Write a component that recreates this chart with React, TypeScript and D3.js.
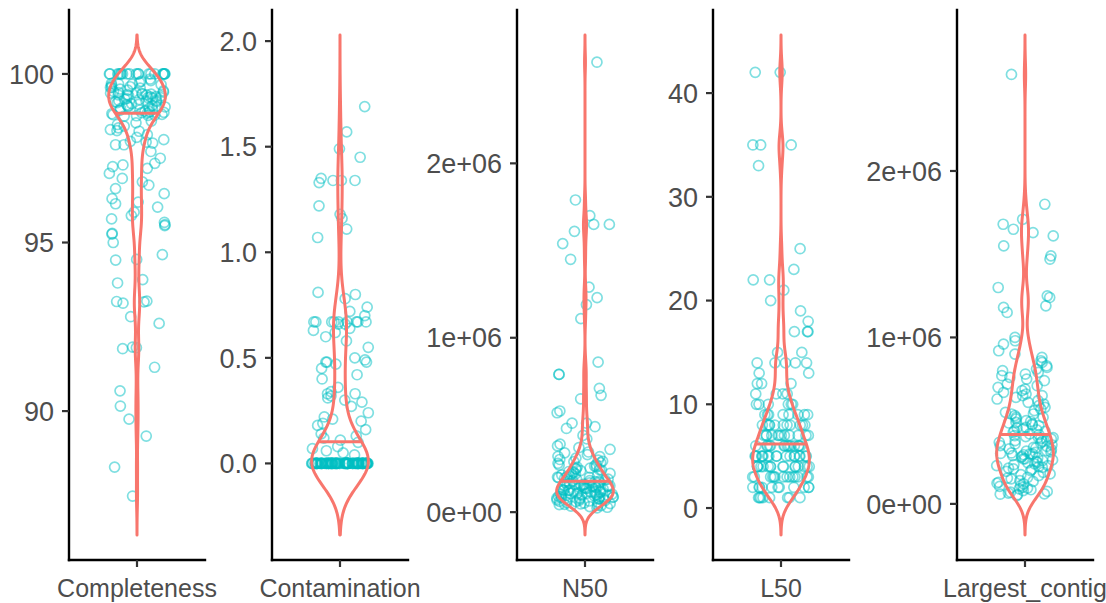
import React from 'react';
import * as d3 from 'd3';

const categories = ['Completeness', 'Contamination', 'N50', 'L50', 'Largest_contig'];

const completeness = [
  100, 100, 100, 100, 100, 100, 100, 100, 100, 100, 100, 100, 100, 100, 100, 100, 100, 100, 100, 100,
  99.85, 99.8, 99.78, 99.75, 99.72, 99.7, 99.7, 99.68, 99.66, 99.62, 99.6, 99.6, 99.58, 99.55, 99.52, 99.5,
  99.48, 99.46, 99.45, 99.44, 99.43, 99.42, 99.4, 99.4, 99.39, 99.38, 99.38, 99.36, 99.35, 99.33, 99.32, 99.3,
  99.3, 99.28, 99.27, 99.25, 99.24, 99.22, 99.2, 99.2, 99.18, 99.17, 99.15, 99.12,
  99.1, 99.08, 99.06, 99.05, 99.03, 99.02, 99.0, 98.98, 98.97, 98.95, 98.93, 98.92, 98.9, 98.88,
  98.86, 98.85, 98.84, 98.82, 98.8, 98.79, 98.78, 98.77, 98.76, 98.75,
  98.6, 98.55, 98.5, 98.45, 98.4, 98.35, 98.32, 98.3,
  98.2, 98.12, 98.05, 98.0, 97.98, 97.95, 97.9, 97.9,
  97.7, 97.5, 97.35, 97.3, 97.25, 97.2, 97.05,
  96.9, 96.8, 96.7, 96.6,
  96.45, 96.3, 96.2, 96.15, 96.05,
  95.9, 95.8, 95.7, 95.6,
  95.53, 95.5, 95.27, 95.25, 95.0, 94.64, 94.5, 94.48, 93.9, 93.8, 93.26, 93.25, 93.24,
  93.2, 92.8, 92.6, 91.9, 91.88, 91.85, 91.3, 90.6, 90.15, 89.76, 89.26, 88.34, 87.48,
];

const contamination = [
  1.69, 1.57, 1.49, 1.45, 1.35, 1.34, 1.34, 1.34, 1.33, 1.22, 1.18, 1.16, 1.11, 1.07,
  0.81, 0.8, 0.78, 0.74, 0.72, 0.7,
  0.67, 0.67, 0.67, 0.67, 0.67, 0.67, 0.67, 0.67, 0.67, 0.66, 0.66,
  0.64, 0.63, 0.62, 0.6, 0.58, 0.55,
  0.5, 0.49, 0.48, 0.48, 0.48, 0.47, 0.45, 0.42, 0.4,
  0.36, 0.34, 0.33, 0.33, 0.32, 0.31, 0.3, 0.29, 0.27,
  0.24, 0.22, 0.21, 0.2, 0.19, 0.18, 0.16, 0.14, 0.13, 0.12, 0.11, 0.1, 0.08, 0.07, 0.06, 0.05, 0.04,
  0, 0, 0, 0, 0, 0, 0, 0, 0, 0,
  0, 0, 0, 0, 0, 0, 0, 0, 0, 0,
  0, 0, 0, 0, 0, 0, 0, 0, 0, 0,
  0, 0, 0, 0, 0, 0, 0, 0, 0, 0,
  0, 0, 0, 0, 0, 0, 0, 0, 0, 0,
  0, 0, 0, 0, 0, 0, 0, 0, 0, 0,
  0, 0, 0, 0, 0, 0, 0, 0, 0, 0,
  0, 0, 0, 0, 0, 0, 0, 0, 0, 0,
  0, 0, 0, 0, 0, 0, 0, 0, 0,
];

const n50 = [
  2.58e6, 1.79e6, 1.7e6, 1.65e6, 1.65e6, 1.61e6, 1.54e6, 1.45e6, 1.29e6, 1.23e6,
  1.19e6, 1.11e6, 0.86e6, 0.79e6, 0.79e6, 0.71e6, 0.67e6, 0.65e6, 0.58e6, 0.57e6,
  0.51e6, 0.51e6, 0.49e6, 0.48e6, 0.44e6, 0.42e6, 0.39e6, 0.38e6, 0.37e6, 0.36e6,
  0.345e6, 0.34e6, 0.33e6, 0.32e6, 0.318e6, 0.31e6, 0.302e6,
  0.298e6, 0.292e6, 0.29e6, 0.284e6, 0.28e6, 0.272e6, 0.27e6, 0.264e6, 0.26e6, 0.258e6, 0.253e6, 0.25e6,
  0.248e6, 0.244e6, 0.241e6, 0.238e6, 0.233e6, 0.23e6, 0.227e6, 0.222e6, 0.22e6, 0.218e6,
  0.213e6, 0.21e6, 0.207e6, 0.203e6, 0.201e6, 0.2e6,
  0.198e6, 0.195e6, 0.19e6, 0.189e6, 0.185e6, 0.181e6, 0.18e6, 0.178e6, 0.175e6, 0.171e6, 0.17e6,
  0.168e6, 0.165e6, 0.161e6, 0.16e6, 0.158e6, 0.155e6, 0.153e6, 0.152e6, 0.151e6, 0.15e6, 0.15e6,
  0.148e6, 0.146e6, 0.145e6, 0.143e6, 0.142e6, 0.14e6, 0.138e6, 0.136e6, 0.135e6, 0.133e6,
  0.13e6, 0.128e6, 0.126e6, 0.125e6, 0.123e6, 0.12e6, 0.118e6, 0.116e6, 0.115e6, 0.113e6,
  0.11e6, 0.108e6, 0.107e6, 0.105e6, 0.104e6, 0.103e6, 0.102e6, 0.1e6,
  0.098e6, 0.096e6, 0.095e6, 0.093e6, 0.092e6, 0.09e6, 0.088e6, 0.087e6, 0.085e6, 0.083e6,
  0.082e6, 0.08e6, 0.078e6, 0.076e6, 0.075e6, 0.073e6, 0.071e6, 0.07e6, 0.068e6, 0.066e6,
  0.064e6, 0.062e6, 0.06e6, 0.057e6, 0.055e6, 0.052e6,
  0.049e6, 0.047e6, 0.045e6, 0.043e6, 0.04e6, 0.038e6, 0.035e6, 0.032e6, 0.028e6, 0.025e6,
];

const l50 = [
  42, 42, 35, 35, 35, 33, 25, 23, 22, 22, 21, 20, 19, 18, 17, 17, 17, 15, 15,
  14, 14, 14, 14, 14, 13, 13, 12, 12, 12, 11, 11, 11, 11,
  10, 10, 10, 10, 10, 10,
  9, 9, 9, 9, 9, 9, 9, 9,
  8, 8, 8, 8, 8, 8, 8, 8, 8, 8, 8,
  7, 7, 7, 7, 7, 7, 7, 7, 7, 7, 7, 7,
  6, 6, 6, 6, 6, 6, 6, 6, 6, 6, 6, 6, 6, 6,
  5, 5, 5, 5, 5, 5, 5, 5, 5, 5, 5, 5, 5, 5, 5, 5, 5, 5,
  4, 4, 4, 4, 4, 4, 4, 4, 4, 4, 4, 4, 4, 4, 4, 4,
  3, 3, 3, 3, 3, 3, 3, 3, 3, 3, 3, 3, 3, 3,
  2, 2, 2, 2, 2, 2, 2, 2, 2, 2, 2,
  1, 1, 1, 1, 1, 1, 1, 1,
];

const largestContig = [
  2.58e6, 1.8e6, 1.71e6, 1.68e6, 1.65e6, 1.63e6, 1.61e6, 1.55e6, 1.49e6, 1.47e6,
  1.3e6, 1.25e6, 1.24e6, 1.19e6, 1.18e6, 1.15e6,
  1.0e6, 0.98e6, 0.96e6, 0.92e6, 0.9e6, 0.88e6, 0.86e6, 0.85e6,
  0.83e6, 0.82e6, 0.81e6, 0.8e6, 0.79e6, 0.78e6, 0.77e6, 0.76e6, 0.75e6, 0.74e6, 0.72e6, 0.71e6,
  0.7e6, 0.69e6, 0.68e6, 0.67e6, 0.66e6, 0.65e6, 0.65e6, 0.64e6, 0.63e6, 0.62e6, 0.61e6, 0.6e6,
  0.59e6, 0.58e6, 0.57e6, 0.56e6, 0.55e6, 0.54e6, 0.54e6, 0.53e6, 0.52e6, 0.52e6, 0.51e6, 0.5e6,
  0.495e6, 0.49e6, 0.486e6, 0.48e6, 0.474e6, 0.47e6, 0.46e6, 0.457e6, 0.45e6, 0.444e6,
  0.44e6, 0.436e6, 0.43e6, 0.42e6, 0.416e6, 0.41e6, 0.404e6, 0.4e6,
  0.398e6, 0.394e6, 0.39e6, 0.386e6, 0.38e6, 0.376e6, 0.37e6, 0.366e6, 0.36e6, 0.355e6,
  0.35e6, 0.346e6, 0.34e6, 0.337e6, 0.33e6, 0.326e6, 0.32e6, 0.317e6, 0.312e6, 0.31e6,
  0.306e6, 0.303e6, 0.3e6, 0.3e6,
  0.295e6, 0.29e6, 0.286e6, 0.28e6, 0.276e6, 0.27e6, 0.264e6, 0.26e6, 0.255e6, 0.25e6,
  0.246e6, 0.24e6, 0.236e6, 0.23e6, 0.224e6, 0.22e6, 0.215e6, 0.21e6, 0.206e6, 0.2e6, 0.27e6, 0.23e6,
  0.195e6, 0.19e6, 0.18e6, 0.176e6, 0.17e6, 0.16e6, 0.155e6, 0.15e6,
  0.14e6, 0.135e6, 0.13e6, 0.124e6, 0.12e6, 0.11e6, 0.105e6, 0.1e6,
  0.095e6, 0.09e6, 0.085e6, 0.08e6, 0.075e6, 0.07e6, 0.065e6, 0.06e6, 0.058e6, 0.055e6, 0.05e6,
];

const tickValues = [
  [90, 95, 100],
  [0, 0.5, 1, 1.5, 2],
  [0, 1e6, 2e6],
  [0, 10, 20, 30, 40],
  [0, 1e6, 2e6],
];
const tickLabels = [
  ['90', '95', '100'],
  ['0.0', '0.5', '1.0', '1.5', '2.0'],
  ['0e+00', '1e+06', '2e+06'],
  ['0', '10', '20', '30', '40'],
  ['0e+00', '1e+06', '2e+06'],
];
const bandwidths = [0.385, 0.113, 0.052e6, 1.2, 0.079e6];

const PANEL_LEFTS = [69, 272, 517, 713, 957];
const PANEL_W = 136;
const TOP = 10;
const BOTTOM = 560;
const FONT = '"Liberation Sans", Arial, Helvetica, sans-serif';
const VIOLIN = '#F8766D';
const POINT = '#00BFC4';

function kde(values: number[], bw: number, grid: number[]) {
  const n = values.length;
  const c = 1 / (n * bw * Math.sqrt(2 * Math.PI));
  return grid.map((g) => {
    let s = 0;
    for (const v of values) {
      const u = (g - v) / bw;
      s += Math.exp(-0.5 * u * u);
    }
    return s * c;
  });
}

function Panel({ idx }: { idx: number }) {
  const data = [completeness, contamination, n50, l50, largestContig][idx];
  const bw = bandwidths[idx];
  const left = PANEL_LEFTS[idx];
  const [mn, mx] = d3.extent(data) as [number, number];
  const lo = mn - 3 * bw;
  const hi = mx + 3 * bw;
  const pad = (hi - lo) * 0.05;
  const y = d3.scaleLinear().domain([lo - pad, hi + pad]).range([BOTTOM, TOP]);
  const x = d3.scaleBand().domain([categories[idx]]).range([left, left + PANEL_W]).paddingOuter(0.1).paddingInner(0);
  const unit = x.bandwidth();
  const cx = (x(categories[idx]) as number) + unit / 2;

  const grid = d3.range(512).map((i) => lo + ((hi - lo) * i) / 511);
  const dens = kde(data, bw, grid);
  const maxD = d3.max(dens) as number;
  const halfW = 0.25 * unit;
  const w = dens.map((d) => (d / maxD) * halfW);

  const pts = grid.map((g, i) => [w[i], g] as [number, number]);
  const right = pts.map(([ww, g]) => [cx + ww, y(g)] as [number, number]);
  const leftSide = pts.slice().reverse().map(([ww, g]) => [cx - ww, y(g)] as [number, number]);
  const path = d3.line()([...right, ...leftSide]) + 'Z';

  // median from the density (as ggplot's draw_quantiles)
  const total = d3.sum(dens);
  let cum = 0;
  let qy = grid[0];
  let qw = w[0];
  for (let i = 0; i < dens.length; i++) {
    const prev = cum;
    cum += dens[i] / total;
    if (cum >= 0.5) {
      const t = i === 0 ? 0 : (0.5 - prev) / (cum - prev);
      const i0 = Math.max(0, i - 1);
      qy = grid[i0] + (grid[i] - grid[i0]) * t;
      qw = w[i0] + (w[i] - w[i0]) * t;
      break;
    }
  }

  const rng = d3.randomLcg(0.137 + idx * 0.211);
  const jit = data.map(() => (rng() * 2 - 1) * 0.25 * unit);

  return (
    <g>
      {data.map((v, i) => (
        <circle key={i} cx={cx + jit[i]} cy={y(v)} r={5} fill="none" stroke={POINT} strokeOpacity={0.5} strokeWidth={1.7} />
      ))}
      <path d={path} fill="none" stroke={VIOLIN} strokeWidth={3} strokeLinejoin="round" />
      <line x1={cx - qw} x2={cx + qw} y1={y(qy)} y2={y(qy)} stroke={VIOLIN} strokeWidth={3} />
      <line x1={left} x2={left} y1={TOP} y2={BOTTOM} stroke="#000" strokeWidth={2.4} strokeLinecap="square" />
      <line x1={left} x2={left + PANEL_W} y1={BOTTOM} y2={BOTTOM} stroke="#000" strokeWidth={2.4} strokeLinecap="square" />
      {tickValues[idx].map((t, i) => (
        <g key={i}>
          <line x1={left - 7} x2={left} y1={y(t)} y2={y(t)} stroke="#333" strokeWidth={2.2} />
          <text x={left - 15} y={y(t)} dy="0.36em" textAnchor="end" fontSize={27} fill="#4D4D4D" fontFamily={FONT}>
            {tickLabels[idx][i]}
          </text>
        </g>
      ))}
      <line x1={cx} x2={cx} y1={BOTTOM} y2={BOTTOM + 7} stroke="#333" strokeWidth={2.2} />
      <text x={cx} y={597} textAnchor="middle" fontSize={25} fill="#4D4D4D" fontFamily={FONT}>
        {categories[idx]}
      </text>
    </g>
  );
}

export default function App() {
  return (
    <svg width={1106} height={603} style={{ position: 'absolute', left: 0, top: 0, background: '#fff' }}>
      <rect x={0} y={0} width={1106} height={603} fill="#fff" />
      {categories.map((c, i) => (
        <Panel key={c} idx={i} />
      ))}
    </svg>
  );
}
